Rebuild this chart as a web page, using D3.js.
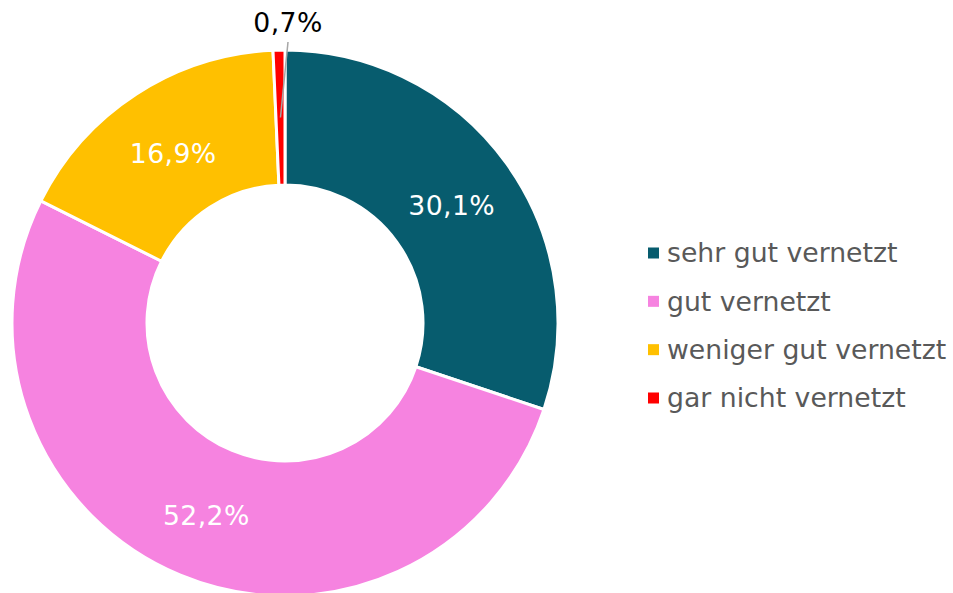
<!DOCTYPE html>
<html>
<head>
<meta charset="utf-8">
<script src="https://cdn.jsdelivr.net/npm/d3@7"></script>
<style>
body { margin: 0; background: #fff; }
svg { display: block; font-family: "DejaVu Sans", Verdana, sans-serif; }
</style>
</head>
<body>
<svg id="chart" width="953" height="593"></svg>
<script>
var categories = ['sehr gut vernetzt', 'gut vernetzt', 'weniger gut vernetzt', 'gar nicht vernetzt'];
var values = [30.1, 52.2, 16.9, 0.7];
var labels = ['30,1%', '52,2%', '16,9%', '0,7%'];
var colors = ['#075c6e', '#f683e0', '#ffc000', '#ff0000'];

var svg = d3.select('#chart');
var cx = 285, cy = 323, outer_r = 273, inner_r = 138;
var font_px = '26.7px';

var data = categories.map((c, i) => ({ cat: c, val: values[i], lab: labels[i], col: colors[i] }));

var pie = d3.pie().value(d => d.val).sort(null);
var arc = d3.arc().innerRadius(inner_r).outerRadius(outer_r);
var arcs = pie(data);

var g = svg.append('g').attr('transform', 'translate(' + cx + ',' + cy + ')');

g.selectAll('path').data(arcs).enter().append('path')
	.attr('d', arc)
	.attr('fill', d => d.data.col)
	.attr('stroke', '#fff')
	.attr('stroke-width', 3)
	.attr('stroke-linejoin', 'round');

// inside labels for the large slices
g.selectAll('text.lab').data(arcs.filter(d => d.data.val > 5)).enter().append('text')
	.attr('class', 'lab')
	.attr('x', d => arc.centroid(d)[0])
	.attr('y', d => arc.centroid(d)[1] + 3)
	.attr('dy', '0.35em')
	.attr('text-anchor', 'middle')
	.attr('fill', '#fff')
	.style('font-size', font_px)
	.style('letter-spacing', '0.4px')
	.text(d => d.data.lab);

// small slice: label outside with leader line
var small = arcs.filter(d => d.data.val <= 5);
small.forEach(function(d) {
	var c = arc.centroid(d);
	g.append('line')
		.attr('x1', c[0]).attr('y1', c[1])
		.attr('x2', 3).attr('y2', -281)
		.attr('stroke', '#a6a6a6')
		.attr('stroke-width', 1.5);
	g.append('text')
		.attr('x', 3).attr('y', -300)
		.attr('dy', '0.35em')
		.attr('text-anchor', 'middle')
		.attr('fill', '#000')
		.style('font-size', font_px)
		.style('letter-spacing', '0.4px')
		.text(d.data.lab);
});

// legend
var legend_y = d3.scalePoint().domain(categories).range([253, 398]);
var leg = svg.append('g');
leg.selectAll('rect').data(data).enter().append('rect')
	.attr('x', 648).attr('y', d => legend_y(d.cat) - 5.5)
	.attr('width', 11).attr('height', 11)
	.attr('fill', d => d.col);
leg.selectAll('text').data(data).enter().append('text')
	.attr('x', 667).attr('y', d => legend_y(d.cat))
	.attr('dy', '0.35em')
	.attr('fill', '#595959')
	.style('font-size', font_px)
	.text(d => d.cat);
</script>
</body>
</html>
